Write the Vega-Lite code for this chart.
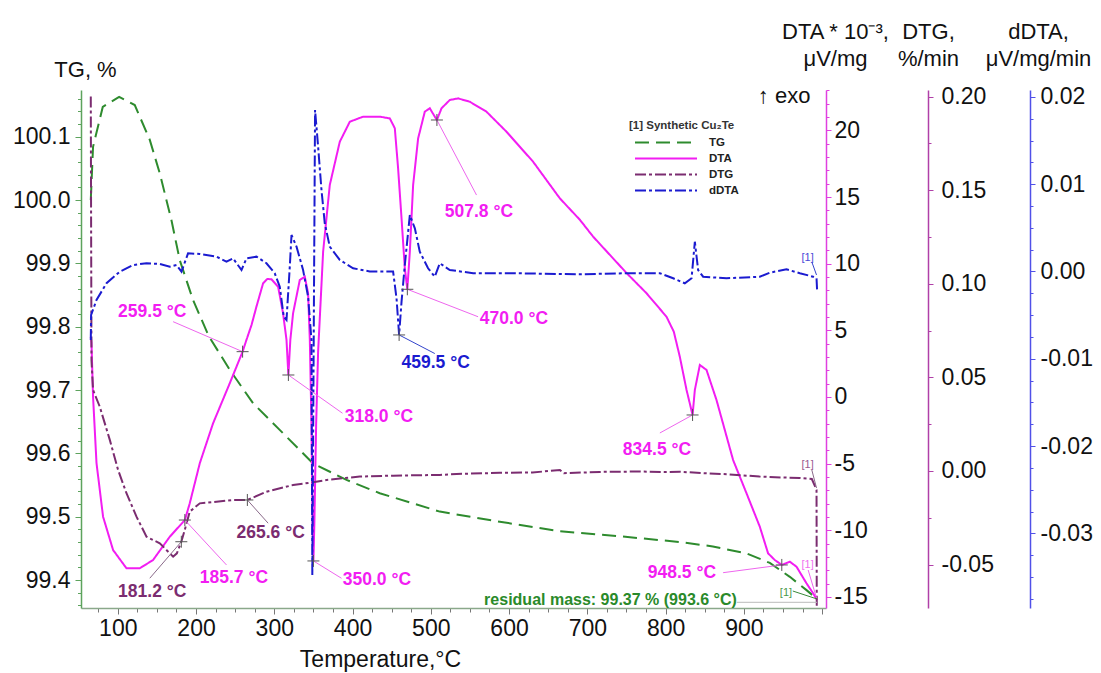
{
"$schema": "https://vega.github.io/schema/vega-lite/v6.json",
"width": 745, "height": 518,
"autosize": {"type": "none"},
"padding": {"left": 81, "top": 90, "right": 275, "bottom": 65},
"background": "white",
"config": {
 "view": {"stroke": null},
 "font": "Liberation Sans",
 "locale": {"number": {"decimal": ".", "thousands": ",", "grouping": [3], "currency": ["", ""], "minus": "-"}},
 "axis": {"labelFont": "Liberation Sans", "labelFontSize": 23, "labelColor": "#111111", "titleFont": "Liberation Sans", "titleFontSize": 22, "titleFontWeight": "normal", "titleColor": "#111111", "grid": false, "domainWidth": 1.5, "tickWidth": 1, "labelOverlap": false, "labelFlush": false}
},
"datasets": {
 "curves": [
  {"s":"TG","T":65.5,"v":100.0},{"s":"TG","T":68.4,"v":100.084},{"s":"TG","T":80.8,"v":100.147},{"s":"TG","T":101.7,"v":100.163},{"s":"TG","T":121.7,"v":100.150},{"s":"TG","T":140.9,"v":100.095},{"s":"TG","T":153.7,"v":100.042},{"s":"TG","T":168.6,"v":99.968},{"s":"TG","T":179.2,"v":99.905},{"s":"TG","T":196.2,"v":99.842},{"s":"TG","T":216.3,"v":99.785},{"s":"TG","T":243.1,"v":99.732},{"s":"TG","T":272.9,"v":99.679},{"s":"TG","T":306.9,"v":99.637},{"s":"TG","T":349.6,"v":99.584},{"s":"TG","T":392.3,"v":99.558},{"s":"TG","T":434.8,"v":99.537},{"s":"TG","T":511.5,"v":99.508},{"s":"TG","T":588.2,"v":99.492},{"s":"TG","T":664.9,"v":99.477},{"s":"TG","T":741.5,"v":99.469},{"s":"TG","T":818.2,"v":99.460},{"s":"TG","T":860.4,"v":99.453},{"s":"TG","T":903.4,"v":99.442},{"s":"TG","T":933.2,"v":99.427},{"s":"TG","T":958.8,"v":99.405},{"s":"TG","T":980.1,"v":99.384},{"s":"TG","T":993.6,"v":99.370},
  {"s":"DTA","T":65.5,"v":4.5},{"s":"DTA","T":66.4,"v":4.05},{"s":"DTA","T":68.4,"v":0.02},{"s":"DTA","T":72.8,"v":-4.95},{"s":"DTA","T":81.2,"v":-8.98},{"s":"DTA","T":94.0,"v":-11.48},{"s":"DTA","T":111.1,"v":-12.85},{"s":"DTA","T":128.1,"v":-12.85},{"s":"DTA","T":145.1,"v":-12.23},{"s":"DTA","T":166.5,"v":-10.48},{"s":"DTA","T":185.7,"v":-9.23},{"s":"DTA","T":192.0,"v":-7.97},{"s":"DTA","T":204.8,"v":-4.97},{"s":"DTA","T":221.8,"v":-1.97},{"s":"DTA","T":243.1,"v":1.03},{"s":"DTA","T":259.5,"v":3.40},{"s":"DTA","T":264.5,"v":4.3},{"s":"DTA","T":270.9,"v":5.4},{"s":"DTA","T":277.3,"v":6.8},{"s":"DTA","T":285.7,"v":8.53},{"s":"DTA","T":291.0,"v":8.85},{"s":"DTA","T":296.4,"v":8.83},{"s":"DTA","T":304.9,"v":8.27},{"s":"DTA","T":311.2,"v":6.28},{"s":"DTA","T":315.6,"v":4.28},{"s":"DTA","T":318.0,"v":1.65},{"s":"DTA","T":320.5,"v":4.28},{"s":"DTA","T":324.0,"v":6.28},{"s":"DTA","T":332.6,"v":8.78},{"s":"DTA","T":339.0,"v":9.02},{"s":"DTA","T":343.2,"v":7.78},{"s":"DTA","T":345.4,"v":4.28},{"s":"DTA","T":347.5,"v":-2.0},{"s":"DTA","T":349.0,"v":-9.5},{"s":"DTA","T":350.0,"v":-12.3},{"s":"DTA","T":351.2,"v":-9.5},{"s":"DTA","T":353.5,"v":-2.0},{"s":"DTA","T":356.0,"v":3.40},{"s":"DTA","T":362.4,"v":10.9},{"s":"DTA","T":370.9,"v":15.9},{"s":"DTA","T":383.7,"v":19.15},{"s":"DTA","T":396.5,"v":20.65},{"s":"DTA","T":413.5,"v":21.03},{"s":"DTA","T":434.8,"v":21.03},{"s":"DTA","T":447.6,"v":20.9},{"s":"DTA","T":454.0,"v":20.16},{"s":"DTA","T":458.2,"v":17.16},{"s":"DTA","T":462.6,"v":13.4},{"s":"DTA","T":466.8,"v":9.65},{"s":"DTA","T":470.0,"v":8.08},{"s":"DTA","T":473.2,"v":10.9},{"s":"DTA","T":477.4,"v":15.9},{"s":"DTA","T":483.8,"v":19.4},{"s":"DTA","T":492.3,"v":21.4},{"s":"DTA","T":498.7,"v":21.66},{"s":"DTA","T":505.1,"v":21.03},{"s":"DTA","T":507.8,"v":20.78},{"s":"DTA","T":513.7,"v":21.66},{"s":"DTA","T":524.3,"v":22.28},{"s":"DTA","T":534.9,"v":22.4},{"s":"DTA","T":549.8,"v":22.15},{"s":"DTA","T":571.2,"v":21.4},{"s":"DTA","T":596.7,"v":19.9},{"s":"DTA","T":630.7,"v":17.65},{"s":"DTA","T":664.9,"v":14.9},{"s":"DTA","T":690.4,"v":13.3},{"s":"DTA","T":707.4,"v":12.03},{"s":"DTA","T":750.1,"v":9.30},{"s":"DTA","T":775.7,"v":7.78},{"s":"DTA","T":801.2,"v":6.02},{"s":"DTA","T":810.5,"v":4.9},{"s":"DTA","T":818.2,"v":3.02},{"s":"DTA","T":826.8,"v":0.53},{"s":"DTA","T":834.5,"v":-1.35},{"s":"DTA","T":837.4,"v":0.53},{"s":"DTA","T":843.8,"v":2.40},{"s":"DTA","T":852.3,"v":2.03},{"s":"DTA","T":865.1,"v":-0.23},{"s":"DTA","T":875.7,"v":-2.48},{"s":"DTA","T":886.3,"v":-4.73},{"s":"DTA","T":903.4,"v":-7.22},{"s":"DTA","T":920.4,"v":-9.73},{"s":"DTA","T":931.0,"v":-11.73},{"s":"DTA","T":939.6,"v":-12.23},{"s":"DTA","T":948.5,"v":-12.6},{"s":"DTA","T":958.8,"v":-12.36},{"s":"DTA","T":967.3,"v":-12.73},{"s":"DTA","T":980.1,"v":-13.98},{"s":"DTA","T":988.6,"v":-14.73},{"s":"DTA","T":993.6,"v":-15.23},
  {"s":"DTG","T":65.5,"v":0.200},{"s":"DTG","T":66.0,"v":0.120},{"s":"DTG","T":66.4,"v":0.059},{"s":"DTG","T":68.4,"v":0.0433},{"s":"DTG","T":77.0,"v":0.0343},{"s":"DTG","T":89.8,"v":0.0166},{"s":"DTG","T":100.4,"v":0.0005},{"s":"DTG","T":111.1,"v":-0.0119},{"s":"DTG","T":123.9,"v":-0.0244},{"s":"DTG","T":136.7,"v":-0.0351},{"s":"DTG","T":145.1,"v":-0.0369},{"s":"DTG","T":153.7,"v":-0.0386},{"s":"DTG","T":162.2,"v":-0.0422},{"s":"DTG","T":170.7,"v":-0.0458},{"s":"DTG","T":175.5,"v":-0.0440},{"s":"DTG","T":181.2,"v":-0.0378},{"s":"DTG","T":185.6,"v":-0.0315},{"s":"DTG","T":192.0,"v":-0.0217},{"s":"DTG","T":204.8,"v":-0.0173},{"s":"DTG","T":226.1,"v":-0.0164},{"s":"DTG","T":247.3,"v":-0.0155},{"s":"DTG","T":265.6,"v":-0.0155},{"s":"DTG","T":290.0,"v":-0.0111},{"s":"DTG","T":324.0,"v":-0.0075},{"s":"DTG","T":345.4,"v":-0.0063},{"s":"DTG","T":366.7,"v":-0.0048},{"s":"DTG","T":409.3,"v":-0.0030},{"s":"DTG","T":451.8,"v":-0.0025},{"s":"DTG","T":511.5,"v":-0.0021},{"s":"DTG","T":540.0,"v":-0.0015},{"s":"DTG","T":588.0,"v":-0.0010},{"s":"DTG","T":630.0,"v":-0.0008},{"s":"DTG","T":665.0,"v":0.0005},{"s":"DTG","T":670.0,"v":-0.0012},{"s":"DTG","T":716.0,"v":-0.0005},{"s":"DTG","T":767.0,"v":-0.0003},{"s":"DTG","T":800.0,"v":-0.0006},{"s":"DTG","T":818.0,"v":-0.0004},{"s":"DTG","T":850.0,"v":-0.0012},{"s":"DTG","T":880.0,"v":-0.0018},{"s":"DTG","T":920.0,"v":-0.0030},{"s":"DTG","T":950.0,"v":-0.0035},{"s":"DTG","T":971.6,"v":-0.0037},{"s":"DTG","T":986.9,"v":-0.0043},{"s":"DTG","T":992.9,"v":-0.0101},{"s":"DTG","T":993.2,"v":-0.0720},
  {"s":"dDTA","T":65.5,"v":-0.00785},{"s":"dDTA","T":65.9,"v":-0.00498},{"s":"dDTA","T":72.8,"v":-0.00326},{"s":"dDTA","T":85.6,"v":-0.00135},{"s":"dDTA","T":102.6,"v":-0.00002},{"s":"dDTA","T":119.6,"v":0.00074},{"s":"dDTA","T":136.7,"v":0.00094},{"s":"dDTA","T":153.7,"v":0.00086},{"s":"dDTA","T":166.5,"v":0.00055},{"s":"dDTA","T":175.0,"v":0.00074},{"s":"dDTA","T":181.4,"v":-0.00002},{"s":"dDTA","T":189.8,"v":0.00208},{"s":"dDTA","T":204.8,"v":0.00200},{"s":"dDTA","T":226.1,"v":0.00170},{"s":"dDTA","T":238.9,"v":0.00112},{"s":"dDTA","T":247.3,"v":0.00151},{"s":"dDTA","T":258.1,"v":0.00017},{"s":"dDTA","T":264.5,"v":0.00151},{"s":"dDTA","T":277.3,"v":0.00170},{"s":"dDTA","T":290.0,"v":0.00094},{"s":"dDTA","T":300.6,"v":-0.00021},{"s":"dDTA","T":307.0,"v":-0.00174},{"s":"dDTA","T":312.1,"v":-0.00518},{"s":"dDTA","T":315.6,"v":-0.00556},{"s":"dDTA","T":319.8,"v":0.00055},{"s":"dDTA","T":322.0,"v":0.00418},{"s":"dDTA","T":328.4,"v":0.00284},{"s":"dDTA","T":336.8,"v":0.00017},{"s":"dDTA","T":343.2,"v":-0.00289},{"s":"dDTA","T":347.5,"v":-0.00785},{"s":"dDTA","T":348.6,"v":-0.0348},{"s":"dDTA","T":352.1,"v":0.0185},{"s":"dDTA","T":356.0,"v":0.0143},{"s":"dDTA","T":360.3,"v":0.00934},{"s":"dDTA","T":364.5,"v":0.00552},{"s":"dDTA","T":370.9,"v":0.00284},{"s":"dDTA","T":383.7,"v":0.00132},{"s":"dDTA","T":400.7,"v":0.00037},{"s":"dDTA","T":422.0,"v":0.0},{"s":"dDTA","T":451.8,"v":0.0},{"s":"dDTA","T":456.2,"v":-0.00307},{"s":"dDTA","T":459.5,"v":-0.00727},{"s":"dDTA","T":462.6,"v":-0.00346},{"s":"dDTA","T":466.8,"v":0.00074},{"s":"dDTA","T":473.2,"v":0.00647},{"s":"dDTA","T":479.6,"v":0.00495},{"s":"dDTA","T":485.9,"v":0.00227},{"s":"dDTA","T":496.5,"v":0.00037},{"s":"dDTA","T":505.1,"v":-0.0006},{"s":"dDTA","T":511.5,"v":0.00094},{"s":"dDTA","T":524.3,"v":0.00017},{"s":"dDTA","T":554.1,"v":-0.0002},{"s":"dDTA","T":605.2,"v":-0.0002},{"s":"dDTA","T":690.4,"v":-0.00032},{"s":"dDTA","T":750.1,"v":-0.0002},{"s":"dDTA","T":792.7,"v":-0.0002},{"s":"dDTA","T":809.7,"v":-0.00078},{"s":"dDTA","T":824.6,"v":-0.00135},{"s":"dDTA","T":833.2,"v":-0.00078},{"s":"dDTA","T":837.4,"v":0.00341},{"s":"dDTA","T":841.6,"v":0.00017},{"s":"dDTA","T":848.0,"v":-0.0006},{"s":"dDTA","T":877.9,"v":-0.00078},{"s":"dDTA","T":920.4,"v":-0.0006},{"s":"dDTA","T":933.2,"v":-0.00014},{"s":"dDTA","T":954.5,"v":0.00025},{"s":"dDTA","T":971.6,"v":-0.0002},{"s":"dDTA","T":988.6,"v":-0.0006},{"s":"dDTA","T":992.9,"v":-0.00078},{"s":"dDTA","T":993.6,"v":-0.00212}
 ]
},
"encoding": {
 "x": {"field": "T", "type": "quantitative", "scale": {"domain": [53, 1005], "nice": false, "zero": false},
  "axis": {"title": "Temperature,°C", "values": [75,100,125,150,175,200,225,250,275,300,325,350,375,400,425,450,475,500,525,550,575,600,625,650,675,700,725,750,775,800,825,850,875,900,925,950,975,1000],
   "labelExpr": "datum.value % 100 === 0 && datum.value < 1000 ? datum.label : ''",
   "tickSize": {"condition": {"test": "datum.value % 100 === 0", "value": 6}, "value": 4},
   "domainColor": "#8AA88A", "tickColor": "#777777", "labelPadding": 3, "titleX": 299, "titleY": 40, "titleAlign": "center", "titleBaseline": "top", "titleFontSize": 23}}
},
"layer": [
 {"data": {"name": "curves"}, "transform": [{"filter": "datum.s === 'TG'"}],
  "mark": {"type": "line", "strokeWidth": 2},
  "encoding": {
   "y": {"field": "v", "type": "quantitative", "scale": {"domain": [99.3558, 100.1737], "nice": false, "zero": false},
    "axis": {"orient": "left", "title": "TG, %", "titleAngle": 0, "titleAlign": "center", "titleBaseline": "alphabetic", "titleX": 4, "titleY": -14,
     "domainColor": "#5DA35D", "tickColor": "#5DA35D",
     "values": [99.36,99.38,99.4,99.42,99.44,99.46,99.48,99.5,99.52,99.54,99.56,99.58,99.6,99.62,99.64,99.66,99.68,99.7,99.72,99.74,99.76,99.78,99.8,99.82,99.84,99.86,99.88,99.9,99.92,99.94,99.96,99.98,100,100.02,100.04,100.06,100.08,100.1,100.12,100.14,100.16],
     "labelExpr": "abs(datum.value*10 - round(datum.value*10)) < 0.001 ? format(datum.value, '.1f') : ''",
     "tickSize": {"condition": {"test": "abs(datum.value*10 - round(datum.value*10)) < 0.001", "value": 6}, "value": 3.5},
     "labelPadding": 5}},
   "color": {"field": "s", "type": "nominal", "scale": {"domain": ["TG","DTA","DTG","dDTA"], "range": ["#2E8B2E","#F21DF2","#7B2C70","#1B1BD0"]},
    "legend": {"orient": "none", "legendX": 548, "legendY": 30, "title": "[1] Synthetic Cu₂Te", "titleFont": "Liberation Sans", "titleFontSize": 11.5, "titleFontWeight": "bold", "titleColor": "#333333", "titlePadding": 5, "labelFont": "Liberation Sans", "labelFontSize": 11.5, "labelFontWeight": "bold", "labelColor": "#222222", "symbolType": "M0,0L12.4,0", "symbolSize": 100, "symbolStrokeWidth": 2, "labelOffset": 68, "rowPadding": 4}},
   "strokeDash": {"field": "s", "type": "nominal", "scale": {"domain": ["TG","DTA","DTG","dDTA"], "range": [[14,7],[1,0],[11,3,3,3],[11,3,3,3]]},
    "legend": {"orient": "none", "legendX": 548, "legendY": 30, "title": "[1] Synthetic Cu₂Te", "titleFont": "Liberation Sans", "titleFontSize": 11.5, "titleFontWeight": "bold", "titleColor": "#333333", "titlePadding": 5, "labelFont": "Liberation Sans", "labelFontSize": 11.5, "labelFontWeight": "bold", "labelColor": "#222222", "symbolType": "M0,0L12.4,0", "symbolSize": 100, "symbolStrokeWidth": 2, "labelOffset": 68, "rowPadding": 4}}
  }},
 {"data": {"name": "curves"}, "transform": [{"filter": "datum.s === 'DTA'"}],
  "mark": {"type": "line", "strokeWidth": 2},
  "encoding": {
   "y": {"field": "v", "type": "quantitative", "scale": {"domain": [-15.83, 23.03], "nice": false, "zero": false},
    "axis": {"orient": "right", "title": ["DTA * 10⁻³,", "μV/mg"], "titleAngle": 0, "titleAlign": "center", "titleBaseline": "alphabetic", "titleX": 9, "titleY": -52, "titleLineHeight": 27,
     "domainColor": "#E040E0", "tickColor": "#E040E0",
     "values": [-15,-14,-13,-12,-11,-10,-9,-8,-7,-6,-5,-4,-3,-2,-1,0,1,2,3,4,5,6,7,8,9,10,11,12,13,14,15,16,17,18,19,20,21,22,23],
     "labelExpr": "datum.value % 5 === 0 ? replace(format(datum.value, 'd'), '\u2212', '-') : ''",
     "tickSize": {"condition": {"test": "datum.value % 5 === 0", "value": 5}, "value": 3},
     "labelPadding": 3}},
   "color": {"field": "s", "type": "nominal"},
   "strokeDash": {"field": "s", "type": "nominal"}
  }},
 {"data": {"name": "curves"}, "transform": [{"filter": "datum.s === 'DTG'"}],
  "mark": {"type": "line", "strokeWidth": 2},
  "encoding": {
   "y": {"field": "v", "type": "quantitative", "scale": {"domain": [-0.0732, 0.2035], "nice": false, "zero": false},
    "axis": {"orient": "right", "offset": 102, "title": ["DTG,", "%/min"], "titleAngle": 0, "titleAlign": "center", "titleBaseline": "alphabetic", "titleX": 0, "titleY": -52, "titleLineHeight": 27,
     "domainColor": "#B040A8", "tickColor": "#B040A8",
     "values": [-0.05,-0.025,0,0.025,0.05,0.075,0.1,0.125,0.15,0.175,0.2],
     "labelExpr": "abs(datum.value*20 - round(datum.value*20)) < 0.001 ? replace(format(datum.value, '.2f'), '\u2212', '-') : ''",
     "tickSize": {"condition": {"test": "abs(datum.value*20 - round(datum.value*20)) < 0.001", "value": 5}, "value": 3},
     "labelPadding": 8}},
   "color": {"field": "s", "type": "nominal"},
   "strokeDash": {"field": "s", "type": "nominal"}
  }},
 {"data": {"name": "curves"}, "transform": [{"filter": "datum.s === 'dDTA'"}],
  "mark": {"type": "line", "strokeWidth": 2},
  "encoding": {
   "y": {"field": "v", "type": "quantitative", "scale": {"domain": [-0.03855, 0.02079], "nice": false, "zero": false},
    "axis": {"orient": "right", "offset": 204, "title": ["dDTA,", "μV/mg/min"], "titleAngle": 0, "titleAlign": "center", "titleBaseline": "alphabetic", "titleX": 8, "titleY": -52, "titleLineHeight": 27,
     "domainColor": "#5050E8", "tickColor": "#5050E8",
     "values": [-0.0375,-0.035,-0.0325,-0.03,-0.0275,-0.025,-0.0225,-0.02,-0.0175,-0.015,-0.0125,-0.01,-0.0075,-0.005,-0.0025,0,0.0025,0.005,0.0075,0.01,0.0125,0.015,0.0175,0.02],
     "labelExpr": "abs(datum.value*100 - round(datum.value*100)) < 0.001 ? replace(format(datum.value, '.2f'), '\u2212', '-') : ''",
     "tickSize": {"condition": {"test": "abs(datum.value*100 - round(datum.value*100)) < 0.001", "value": 5}, "value": 3},
     "labelPadding": 5}},
   "color": {"field": "s", "type": "nominal"},
   "strokeDash": {"field": "s", "type": "nominal"}
  }},
 {"data": {"values": [{"T":185.7,"v":-9.23,"T2":238.9,"v2":-12.6},{"T":259.5,"v":3.40,"T2":170.7,"v2":5.65},{"T":318.0,"v":1.65,"T2":387.2,"v2":-1.22},{"T":350.0,"v":-12.3,"T2":385.9,"v2":-13.6},{"T":470.0,"v":8.08,"T2":560.4,"v2":6.02},{"T":507.8,"v":20.78,"T2":558.4,"v2":15.15},{"T":834.5,"v":-1.35,"T2":792.7,"v2":-2.7},{"T":948.5,"v":-12.6,"T2":873.5,"v2":-13.18},{"T":982.2,"v":-12.98,"T2":992.9,"v2":-15.08}]},
  "mark": {"type": "rule", "stroke": "#EE66EE", "strokeWidth": 1},
  "encoding": {"y": {"field": "v", "type": "quantitative", "scale": {"domain": [-15.83, 23.03], "nice": false, "zero": false}, "axis": null}, "x2": {"field": "T2"}, "y2": {"field": "v2"}}},
 {"data": {"values": [{"T":185.7,"v":-9.23},{"T":259.5,"v":3.40},{"T":318.0,"v":1.65},{"T":350.0,"v":-12.3},{"T":470.0,"v":8.08},{"T":507.8,"v":20.78},{"T":834.5,"v":-1.35},{"T":948.5,"v":-12.6}]},
  "mark": {"type": "point", "shape": "M-1,0L1,0M0,-1L0,1", "size": 144, "stroke": "#555555", "strokeWidth": 1, "filled": false, "opacity": 1},
  "encoding": {"y": {"field": "v", "type": "quantitative", "scale": {"domain": [-15.83, 23.03], "nice": false, "zero": false}, "axis": null}}},
 {"data": {"values": [{"T":204.8,"v":-13.6,"text":"185.7 °C"},{"T":100.4,"v":6.40,"text":"259.5 °C"},{"T":390.1,"v":-1.48,"text":"318.0 °C"},{"T":387.5,"v":-13.73,"text":"350.0 °C"},{"T":562.6,"v":5.83,"text":"470.0 °C"},{"T":517.9,"v":13.9,"text":"507.8 °C"},{"T":745.4,"v":-3.98,"text":"834.5 °C"},{"T":777.3,"v":-13.2,"text":"948.5 °C"}]},
  "mark": {"type": "text", "align": "left", "baseline": "middle", "fontSize": 17.5, "fontWeight": "bold", "color": "#F21DF2"},
  "encoding": {"y": {"field": "v", "type": "quantitative", "scale": {"domain": [-15.83, 23.03], "nice": false, "zero": false}, "axis": null}, "text": {"field": "text"}}},
 {"data": {"values": [{"T":973.7,"v":-12.6,"text":"[1]"}]},
  "mark": {"type": "text", "align": "left", "baseline": "middle", "fontSize": 11, "color": "#F070F0"},
  "encoding": {"y": {"field": "v", "type": "quantitative", "scale": {"domain": [-15.83, 23.03], "nice": false, "zero": false}, "axis": null}, "text": {"field": "text"}}},
 {"data": {"values": [{"T":917.9,"v":22.58,"text":"↑ exo"}]},
  "mark": {"type": "text", "align": "left", "baseline": "middle", "fontSize": 22, "color": "#111111"},
  "encoding": {"y": {"field": "v", "type": "quantitative", "scale": {"domain": [-15.83, 23.03], "nice": false, "zero": false}, "axis": null}, "text": {"field": "text"}}},
 {"data": {"values": [{"T":181.2,"v":-0.0378,"T2":140.9,"v2":-0.0573},{"T":265.6,"v":-0.0155,"T2":292.1,"v2":-0.0279},{"T":986.9,"v":0.0005,"T2":992.9,"v2":-0.0091}]},
  "mark": {"type": "rule", "stroke": "#8A6A8A", "strokeWidth": 1},
  "encoding": {"y": {"field": "v", "type": "quantitative", "scale": {"domain": [-0.0732, 0.2035], "nice": false, "zero": false}, "axis": null}, "x2": {"field": "T2"}, "y2": {"field": "v2"}}},
 {"data": {"values": [{"T":181.2,"v":-0.0378},{"T":265.6,"v":-0.0155}]},
  "mark": {"type": "point", "shape": "M-1,0L1,0M0,-1L0,1", "size": 144, "stroke": "#555555", "strokeWidth": 1, "filled": false, "opacity": 1},
  "encoding": {"y": {"field": "v", "type": "quantitative", "scale": {"domain": [-0.0732, 0.2035], "nice": false, "zero": false}, "axis": null}}},
 {"data": {"values": [{"T":100.4,"v":-0.0645,"text":"181.2 °C"},{"T":251.7,"v":-0.0333,"text":"265.6 °C"}]},
  "mark": {"type": "text", "align": "left", "baseline": "middle", "fontSize": 17.5, "fontWeight": "bold", "color": "#7B2C70"},
  "encoding": {"y": {"field": "v", "type": "quantitative", "scale": {"domain": [-0.0732, 0.2035], "nice": false, "zero": false}, "axis": null}, "text": {"field": "text"}}},
 {"data": {"values": [{"T":973.7,"v":0.0032,"text":"[1]"}]},
  "mark": {"type": "text", "align": "left", "baseline": "middle", "fontSize": 11, "color": "#9A5A90"},
  "encoding": {"y": {"field": "v", "type": "quantitative", "scale": {"domain": [-0.0732, 0.2035], "nice": false, "zero": false}, "axis": null}, "text": {"field": "text"}}},
 {"data": {"values": [{"T":459.5,"v":-0.00727,"T2":505.1,"v2":-0.0094},{"T":986.9,"v":0.00109,"T2":992.9,"v2":-0.0004}]},
  "mark": {"type": "rule", "stroke": "#3344CC", "strokeWidth": 1},
  "encoding": {"y": {"field": "v", "type": "quantitative", "scale": {"domain": [-0.03855, 0.02079], "nice": false, "zero": false}, "axis": null}, "x2": {"field": "T2"}, "y2": {"field": "v2"}}},
 {"data": {"values": [{"T":459.5,"v":-0.00727}]},
  "mark": {"type": "point", "shape": "M-1,0L1,0M0,-1L0,1", "size": 144, "stroke": "#555555", "strokeWidth": 1, "filled": false, "opacity": 1},
  "encoding": {"y": {"field": "v", "type": "quantitative", "scale": {"domain": [-0.03855, 0.02079], "nice": false, "zero": false}, "axis": null}}},
 {"data": {"values": [{"T":462.6,"v":-0.0105,"text":"459.5 °C"}]},
  "mark": {"type": "text", "align": "left", "baseline": "middle", "fontSize": 17.5, "fontWeight": "bold", "color": "#1B1BD0"},
  "encoding": {"y": {"field": "v", "type": "quantitative", "scale": {"domain": [-0.03855, 0.02079], "nice": false, "zero": false}, "axis": null}, "text": {"field": "text"}}},
 {"data": {"values": [{"T":973.7,"v":0.00151,"text":"[1]"}]},
  "mark": {"type": "text", "align": "left", "baseline": "middle", "fontSize": 11, "color": "#4A4AD8"},
  "encoding": {"y": {"field": "v", "type": "quantitative", "scale": {"domain": [-0.03855, 0.02079], "nice": false, "zero": false}, "axis": null}, "text": {"field": "text"}}},
 {"data": {"values": [{"T":891.1,"v":99.3648,"T2":993.6,"v2":99.3648}]},
  "mark": {"type": "rule", "stroke": "#BBBBBB", "strokeWidth": 1},
  "encoding": {"y": {"field": "v", "type": "quantitative", "scale": {"domain": [99.3558, 100.1737], "nice": false, "zero": false}, "axis": null}, "x2": {"field": "T2"}, "y2": {"field": "v2"}}},
 {"data": {"values": [{"T":962.6,"v":99.3826,"T2":993.6,"v2":99.370}]},
  "mark": {"type": "rule", "stroke": "#3A8A3A", "strokeWidth": 1},
  "encoding": {"y": {"field": "v", "type": "quantitative", "scale": {"domain": [99.3558, 100.1737], "nice": false, "zero": false}, "axis": null}, "x2": {"field": "T2"}, "y2": {"field": "v2"}}},
 {"data": {"values": [{"T":891.1,"v":99.3684,"text":"residual mass: 99.37 % (993.6 °C)"}]},
  "mark": {"type": "text", "align": "right", "baseline": "middle", "fontSize": 16, "fontWeight": "bold", "color": "#2A8A2A"},
  "encoding": {"y": {"field": "v", "type": "quantitative", "scale": {"domain": [99.3558, 100.1737], "nice": false, "zero": false}, "axis": null}, "text": {"field": "text"}}},
 {"data": {"values": [{"T":946.0,"v":99.3794,"text":"[1]"}]},
  "mark": {"type": "text", "align": "left", "baseline": "middle", "fontSize": 11, "color": "#4A9A4A"},
  "encoding": {"y": {"field": "v", "type": "quantitative", "scale": {"domain": [99.3558, 100.1737], "nice": false, "zero": false}, "axis": null}, "text": {"field": "text"}}}
],
"resolve": {"scale": {"y": "independent"}}
}
